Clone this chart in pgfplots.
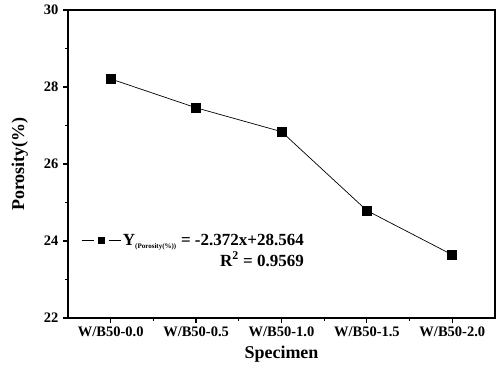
\documentclass[border=0pt]{standalone}
\usepackage{fontspec}
\setmainfont{Liberation Serif}
\usepackage{pgfplots}
\pgfplotsset{compat=1.18}
\begin{document}
\begin{tikzpicture}
\begin{axis}[
  scale only axis,
  width=427pt, height=308pt,
  xmin=-0.5, xmax=4.5,
  ymin=22, ymax=30,
  xtick={0,1,2,3,4},
  xticklabels={W/B50-0.0,W/B50-0.5,W/B50-1.0,W/B50-1.5,W/B50-2.0},
  minor xtick={0.5,1.5,2.5,3.5},
  ytick={22,24,26,28,30},
  minor ytick={23,25,27,29},
  tick pos=left,
  tick align=outside,
  major tick length=5pt,
  minor tick length=3pt,
  every tick/.style={black, line width=1.2pt},
  axis line style={line width=1.6pt},
  /pgf/number format/assume math mode=true,
  ticklabel style={font=\bfseries\fontsize{14.5}{16}\selectfont},
  yticklabel style={xshift=-1pt},
  xlabel={Specimen},
  ylabel={Porosity(\%)},
  label style={font=\bfseries\fontsize{18}{20}\selectfont},
  xlabel style={yshift=-3pt},
  ylabel style={yshift=9pt},
  legend style={draw=none, fill=none, at={(axis cs:-0.36,23.74)}, anchor=west,
    font=\bfseries\fontsize{17}{18}\selectfont, row sep=1pt, inner sep=1pt},
  legend cell align=right,
  legend image code/.code={
    \draw[line width=0.8pt] (0pt,0pt) -- (12pt,0pt);
    \draw[line width=0.8pt] (27pt,0pt) -- (39pt,0pt);
    \fill (16.5pt,-3pt) rectangle (22.5pt,3pt);
  },
]
\addplot[black, line width=0.7pt, mark=square*, mark size=4.5pt,
  mark options={fill=black}] coordinates {
  (0,28.21) (1,27.46) (2,26.84) (3,24.79) (4,23.64)};
\addlegendentry{Y\textsubscript{\fontsize{7}{8}\selectfont(Porosity(\%))} = -2.372x+28.564}
\addlegendimage{empty legend}
\addlegendentry{R\textsuperscript{2} = 0.9569\hspace{8pt}}
\end{axis}
\pgfresetboundingbox
\path (current axis.south west) ++(-68pt,-51pt) rectangle ++(498pt,369pt);
\end{tikzpicture}
\end{document}
